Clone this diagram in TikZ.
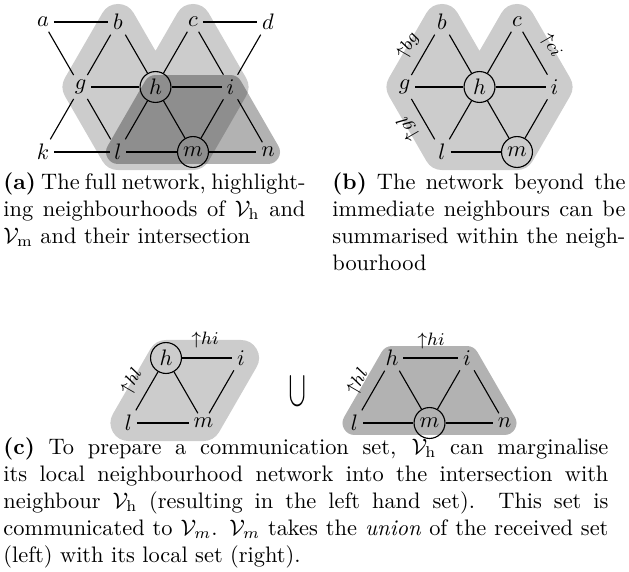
\documentclass[tikz,border=0pt]{standalone}
\usepackage{amsmath}
\usepackage{graphicx}
\usetikzlibrary{calc}
\pgfdeclarelayer{bg}
\pgfsetlayers{bg,main}
\newlength\pxu
\setlength\pxu{0.4464pt}
\newcommand{\upar}{\mathord{\uparrow}}
\begin{document}
\begin{tikzpicture}[x=0.4464pt,y=-0.4464pt,
  lbl/.style={inner sep=2pt},
  cnode/.style={circle, draw, line width=0.5pt, inner sep=0pt, minimum size=13.8pt},
  edge/.style={line width=0.5pt},
  hreg/.style={fill=black, draw=black, line width=16.1pt, line join=round},
  mreg/.style={fill=black, draw=black, line width=10.7pt, line join=round},
  elab/.style={font=\footnotesize, inner sep=0.3pt},
  captext/.style={anchor=base west, inner sep=0pt},
]
\useasboundingbox (0,0) rectangle (629,571);

% ---------- (a) ----------
\node[lbl] (A-a) at (43,22) {$a$};
\node[lbl] (A-b) at (118,22) {$b$};
\node[lbl] (A-c) at (193,22) {$c$};
\node[lbl] (A-d) at (268,22) {$d$};
\node[lbl] (A-g) at (80.5,87) {$g$};
\node[cnode] (A-h) at (155.5,87) {$h$};
\node[lbl] (A-i) at (230.5,87) {$i$};
\node[lbl] (A-k) at (43,152) {$k$};
\node[lbl] (A-l) at (118,152) {$l$};
\node[cnode] (A-m) at (193,152) {$m$};
\node[lbl] (A-n) at (268,152) {$n$};
\foreach \u/\v in {a/b,c/d,a/g,b/g,b/h,c/h,c/i,d/i,g/h,h/i,g/k,g/l,h/l,h/m,i/m,i/n,k/l,l/m,m/n}
  \draw[edge] (A-\u) -- (A-\v);

% ---------- (b) ----------
\node[lbl] (B-b) at (442,22) {$b$};
\node[lbl] (B-c) at (517,22) {$c$};
\node[lbl] (B-g) at (404.5,87) {$g$};
\node[cnode] (B-h) at (479.5,87) {$h$};
\node[lbl] (B-i) at (554.5,87) {$i$};
\node[lbl] (B-l) at (442,152) {$l$};
\node[cnode] (B-m) at (517,152) {$m$};
\foreach \u/\v in {b/g,b/h,c/h,c/i,g/h,h/i,g/l,h/l,h/m,i/m,l/m}
  \draw[edge] (B-\u) -- (B-\v);
\node[elab, rotate=60] (B-bg) at (408,45.5) {$\upar bg$};
\node[elab, rotate=-60] (B-ci) at (551,45.5) {$\upar ci$};
\node[elab, rotate=120] (B-gl) at (408,128.5) {$\upar gl$};

% ---------- (c) left ----------
\node[cnode] (L-h) at (166,358) {$h$};
\node[lbl] (L-i) at (241,358) {$i$};
\node[lbl] (L-l) at (128.5,423) {$l$};
\node[lbl] (L-m) at (203.5,423) {$m$};
\foreach \u/\v in {h/i,h/l,h/m,i/m,l/m}
  \draw[edge] (L-\u) -- (L-\v);
\node[elab] (L-hi) at (205,340) {$\upar hi$};
\node[elab, rotate=60] (L-hl) at (132,381.5) {$\upar hl$};

% ---------- union ----------
\node (U) at (298,391) {\scalebox{0.65}[1]{$\displaystyle\bigcup$}};

% ---------- (c) right ----------
\node[lbl] (R-h) at (392,358) {$h$};
\node[lbl] (R-i) at (467,358) {$i$};
\node[lbl] (R-l) at (354.5,423) {$l$};
\node[cnode] (R-m) at (429.5,423) {$m$};
\node[lbl] (R-n) at (504.5,423) {$n$};
\foreach \u/\v in {h/i,h/l,h/m,i/m,i/n,l/m,m/n}
  \draw[edge] (R-\u) -- (R-\v);
\node[elab] (R-hi) at (431,341) {$\upar hi$};
\node[elab, rotate=60] (R-hl) at (358,382) {$\upar hl$};

% ---------- shaded regions ----------
\begin{pgfonlayer}{bg}
\begin{scope}[transparency group, opacity=0.2]
\draw[hreg] (A-b.center) -- (A-h.center) -- (A-c.center) -- (A-i.center) -- (A-m.center) -- (A-l.center) -- (A-g.center) -- cycle;
\end{scope}
\begin{scope}[transparency group, opacity=0.3]
\draw[mreg] (A-h.center) -- (A-i.center) -- (A-n.center) -- (A-l.center) -- cycle;
\end{scope}
\begin{scope}[transparency group, opacity=0.2]
\draw[hreg] (B-b.center) -- (B-h.center) -- (B-c.center) -- (B-i.center) -- (B-m.center) -- (B-l.center) -- (B-g.center) -- cycle;
\end{scope}
\begin{scope}[transparency group, opacity=0.2]
\draw[hreg] (L-h.center) -- (L-i.center) -- (L-m.center) -- (L-l.center) -- cycle;
\end{scope}
\begin{scope}[transparency group, opacity=0.3]
\draw[mreg] (R-h.center) -- (R-i.center) -- (R-n.center) -- (R-l.center) -- cycle;
\end{scope}
\end{pgfonlayer}

% ---------- captions ----------
\node[captext] (capA1) at (3,189) {\makebox[302\pxu][s]{\textbf{(a)} The full network, highlight-}};
\node[captext] (capA2) at (3,216) {\makebox[302\pxu][s]{ing neighbourhoods of $\mathcal{V}_{\mathrm{h}}$ and}};
\node[captext] (capA3) at (3,243) {$\mathcal{V}_{\mathrm{m}}$ and their intersection};

\node[captext] (capB1) at (332,189) {\makebox[293\pxu][s]{\textbf{(b)} The network beyond the}};
\node[captext] (capB2) at (332,216) {\makebox[293\pxu][s]{immediate neighbours can be}};
\node[captext] (capB3) at (332,243) {\makebox[293\pxu][s]{summarised within the neigh-}};
\node[captext] (capB4) at (332,270) {bourhood};

\node[captext] (capC1) at (3,454) {\makebox[605\pxu][s]{\textbf{(c)} To prepare a communication set, $\mathcal{V}_{\mathrm{h}}$ can marginalise}};
\node[captext] (capC2) at (3,481) {\makebox[605\pxu][s]{its local neighbourhood network into the intersection with}};
\node[captext] (capC3) at (3,508) {\makebox[605\pxu][s]{neighbour $\mathcal{V}_{\mathrm{h}}$ (resulting in the left hand set). This set is}};
\node[captext] (capC4) at (3,535) {\makebox[605\pxu][s]{communicated to $\mathcal{V}_m$. $\mathcal{V}_m$ takes the \emph{union} of the received set}};
\node[captext] (capC5) at (3,562) {(left) with its local set (right).};
\end{tikzpicture}
\end{document}
